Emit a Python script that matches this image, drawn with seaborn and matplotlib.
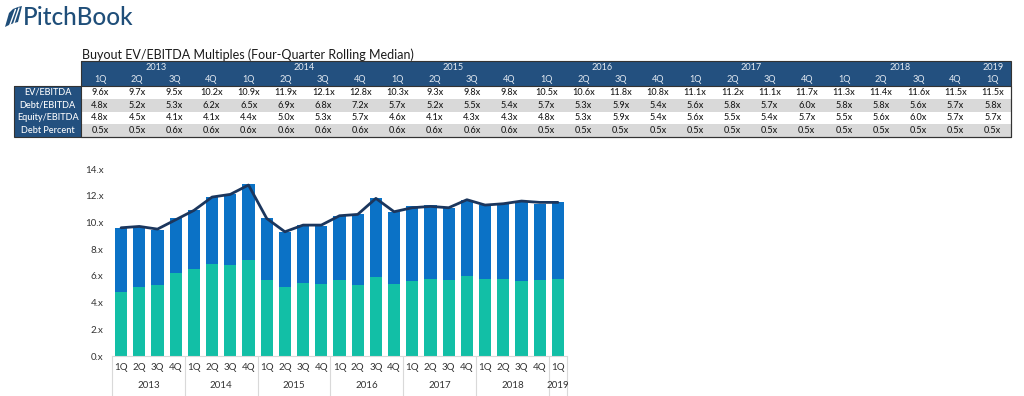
import numpy as np
import pandas as pd
import matplotlib
matplotlib.use("Agg")
import matplotlib.pyplot as plt
import matplotlib.transforms as mtrans
from matplotlib.patches import Rectangle, Polygon
import seaborn as sns

# ---------------- data ----------------
years_hdr = ["2013", "2014", "2015", "2016", "2017", "2018", "2019"]
year_counts = [4, 4, 4, 4, 4, 4, 1]
quarters = ["1Q", "2Q", "3Q", "4Q"] * 6 + ["1Q"]
ev_ebitda = [9.6, 9.7, 9.5, 10.2, 10.9, 11.9, 12.1, 12.8, 10.3, 9.3, 9.8, 9.8,
             10.5, 10.6, 11.8, 10.8, 11.1, 11.2, 11.1, 11.7, 11.3, 11.4, 11.6, 11.5, 11.5]
debt_ebitda = [4.8, 5.2, 5.3, 6.2, 6.5, 6.9, 6.8, 7.2, 5.7, 5.2, 5.5, 5.4,
               5.7, 5.3, 5.9, 5.4, 5.6, 5.8, 5.7, 6.0, 5.8, 5.8, 5.6, 5.7, 5.8]
equity_ebitda = [4.8, 4.5, 4.1, 4.1, 4.4, 5.0, 5.3, 5.7, 4.6, 4.1, 4.3, 4.3,
                 4.8, 5.3, 5.9, 5.4, 5.6, 5.5, 5.4, 5.7, 5.5, 5.6, 6.0, 5.7, 5.7]
debt_percent = [0.5, 0.5, 0.6, 0.6, 0.6, 0.6, 0.6, 0.6, 0.6, 0.6, 0.6, 0.6,
                0.5, 0.5, 0.5, 0.5, 0.5, 0.5, 0.5, 0.5, 0.5, 0.5, 0.5, 0.5, 0.5]
row_labels = ["EV/EBITDA", "Debt/EBITDA", "Equity/EBITDA", "Debt Percent"]
y_ticks = [0, 2, 4, 6, 8, 10, 12, 14]
y_tick_labels = ["0.x", "2.x", "4.x", "6.x", "8.x", "10.x", "12.x", "14.x"]
title = "Buyout EV/EBITDA Multiples (Four-Quarter Rolling Median)"

# ---------------- style ----------------
sns.set_theme(style="white")
plt.rcParams["font.family"] = ["Lato", "DejaVu Sans"]

NAVY = "#23507F"
TEAL = "#12BFA6"
BLUE = "#0B72C6"
LINE = "#1B365D"
GRAY = "#D9D9D9"
TXT = "#1a1a1a"
LOGO = "#1F4E79"

W, H = 1024, 396
fig = plt.figure(figsize=(W / 100, H / 100), dpi=100)

# ---------------- table / header (pixel coordinate overlay) ----------------
tax = fig.add_axes([0, 0, 1, 1])
tax.set_xlim(0, W)
tax.set_ylim(H, 0)
tax.axis("off")

# logo icon (stylised pages) and word mark
tax.add_patch(Polygon([[5, 27], [9, 13], [13, 9], [18, 7], [22, 6], [18, 22], [14, 23], [9, 25]],
                      closed=True, color=LOGO, lw=0))
tax.plot([9.5, 15.5], [26, 9.5], color="white", lw=1.0)
tax.plot([13.5, 19.0], [24.5, 8.0], color="white", lw=1.0)
tax.text(23, 17.5, "PitchBook", fontsize=17.5, color=LOGO, va="center", ha="left",
         fontweight="medium")

tax.text(82, 55, title, fontsize=9, color=TXT, va="center", ha="left")

x0, ncol = 81.4, len(quarters)
cw = 37.2
x1 = x0 + cw * ncol
lab_x0 = 14
y_year, y_q, y_data = 61, 73, 86
rh = 12.8

# header background
tax.add_patch(Rectangle((x0, y_year), x1 - x0, y_data - y_year, color=NAVY, lw=0))
# row label column
tax.add_patch(Rectangle((lab_x0, y_data), x0 - lab_x0, rh * 4, color=NAVY, lw=0))
# data rows
rows = [ev_ebitda, debt_ebitda, equity_ebitda, debt_percent]
for r, vals in enumerate(rows):
    yt = y_data + r * rh
    bg = "white" if r % 2 == 0 else GRAY
    tax.add_patch(Rectangle((x0, yt), x1 - x0, rh, color=bg, lw=0))
    tax.text((lab_x0 + x0) / 2, yt + rh / 2, row_labels[r], color="white",
             fontsize=6.6, ha="center", va="center", fontweight="medium")
    for c, v in enumerate(vals):
        tax.text(x0 + cw * (c + 0.5), yt + rh / 2, f"{v:.1f}x", color=TXT,
                 fontsize=6.6, ha="center", va="center", fontweight="medium")
# border
tax.add_patch(Rectangle((lab_x0, y_data), x1 - lab_x0, rh * 4, fill=False,
                        edgecolor="#333333", lw=0.8))
tax.add_patch(Rectangle((x0, y_year), x1 - x0, y_data - y_year + rh * 4, fill=False,
                        edgecolor="#333333", lw=0.8))

# header texts
c = 0
for yr, n in zip(years_hdr, year_counts):
    tax.text(x0 + cw * (c + n / 2), (y_year + y_q) / 2 + 0.5, yr, color="#E6ECF3",
             fontsize=6.6, ha="center", va="center")
    c += n
for i, q in enumerate(quarters):
    tax.text(x0 + cw * (i + 0.5), (y_q + y_data) / 2, q, color="#E6ECF3",
             fontsize=6.6, ha="center", va="center")

# ---------------- chart ----------------
ax_l, ax_r = 112, 567
ax_b, ax_t = 356, 169
ax = fig.add_axes([ax_l / W, (H - ax_b) / H, (ax_r - ax_l) / W, (ax_b - ax_t) / H])
ax.patch.set_alpha(0)

labels = [f"{y} {q}" for y, q in zip(
    [yr for yr, n in zip(years_hdr, year_counts) for _ in range(n)], quarters)]
df = pd.DataFrame({"label": labels, "debt": debt_ebitda, "equity": equity_ebitda,
                   "ev": ev_ebitda})
df["total"] = df["debt"] + df["equity"]
df["pos"] = np.arange(len(df))

sns.barplot(data=df, x="label", y="total", color=BLUE, saturation=1, width=0.66,
            ax=ax, linewidth=0)
sns.barplot(data=df, x="label", y="debt", color=TEAL, saturation=1, width=0.66,
            ax=ax, linewidth=0)
sns.lineplot(data=df, x="pos", y="ev", color=LINE, linewidth=2.0, ax=ax)

ax.set_xlim(-0.5, len(df) - 0.5)
ax.set_ylim(0, 14)
ax.set_xlabel("")
ax.set_ylabel("")
ax.set_yticks(y_ticks)
ax.set_yticklabels(y_tick_labels, fontsize=7, color="#333333")
ax.set_xticks(np.arange(len(df)))
ax.set_xticklabels(quarters, fontsize=7, color="#333333")
ax.tick_params(axis="both", length=0)
ax.tick_params(axis="y", pad=6)
ax.tick_params(axis="x", pad=5)
for s in ["left", "top", "right"]:
    ax.spines[s].set_visible(False)
ax.spines["bottom"].set_color(GRAY)
ax.spines["bottom"].set_linewidth(0.8)

trans = mtrans.blended_transform_factory(ax.transData, ax.transAxes)
axh = ax_b - ax_t
sep = [-0.5]
c = 0
for yr, n in zip(years_hdr, year_counts):
    ax.text(c + (n - 1) / 2, -30 / axh, yr, transform=trans, fontsize=7,
            ha="center", va="center", color="#333333")
    c += n
    sep.append(c - 0.5)
for s in sep:
    ax.plot([s, s], [0, -42 / axh], transform=trans, color=GRAY, lw=0.8, clip_on=False)

fig.savefig("out.png", dpi=100)
